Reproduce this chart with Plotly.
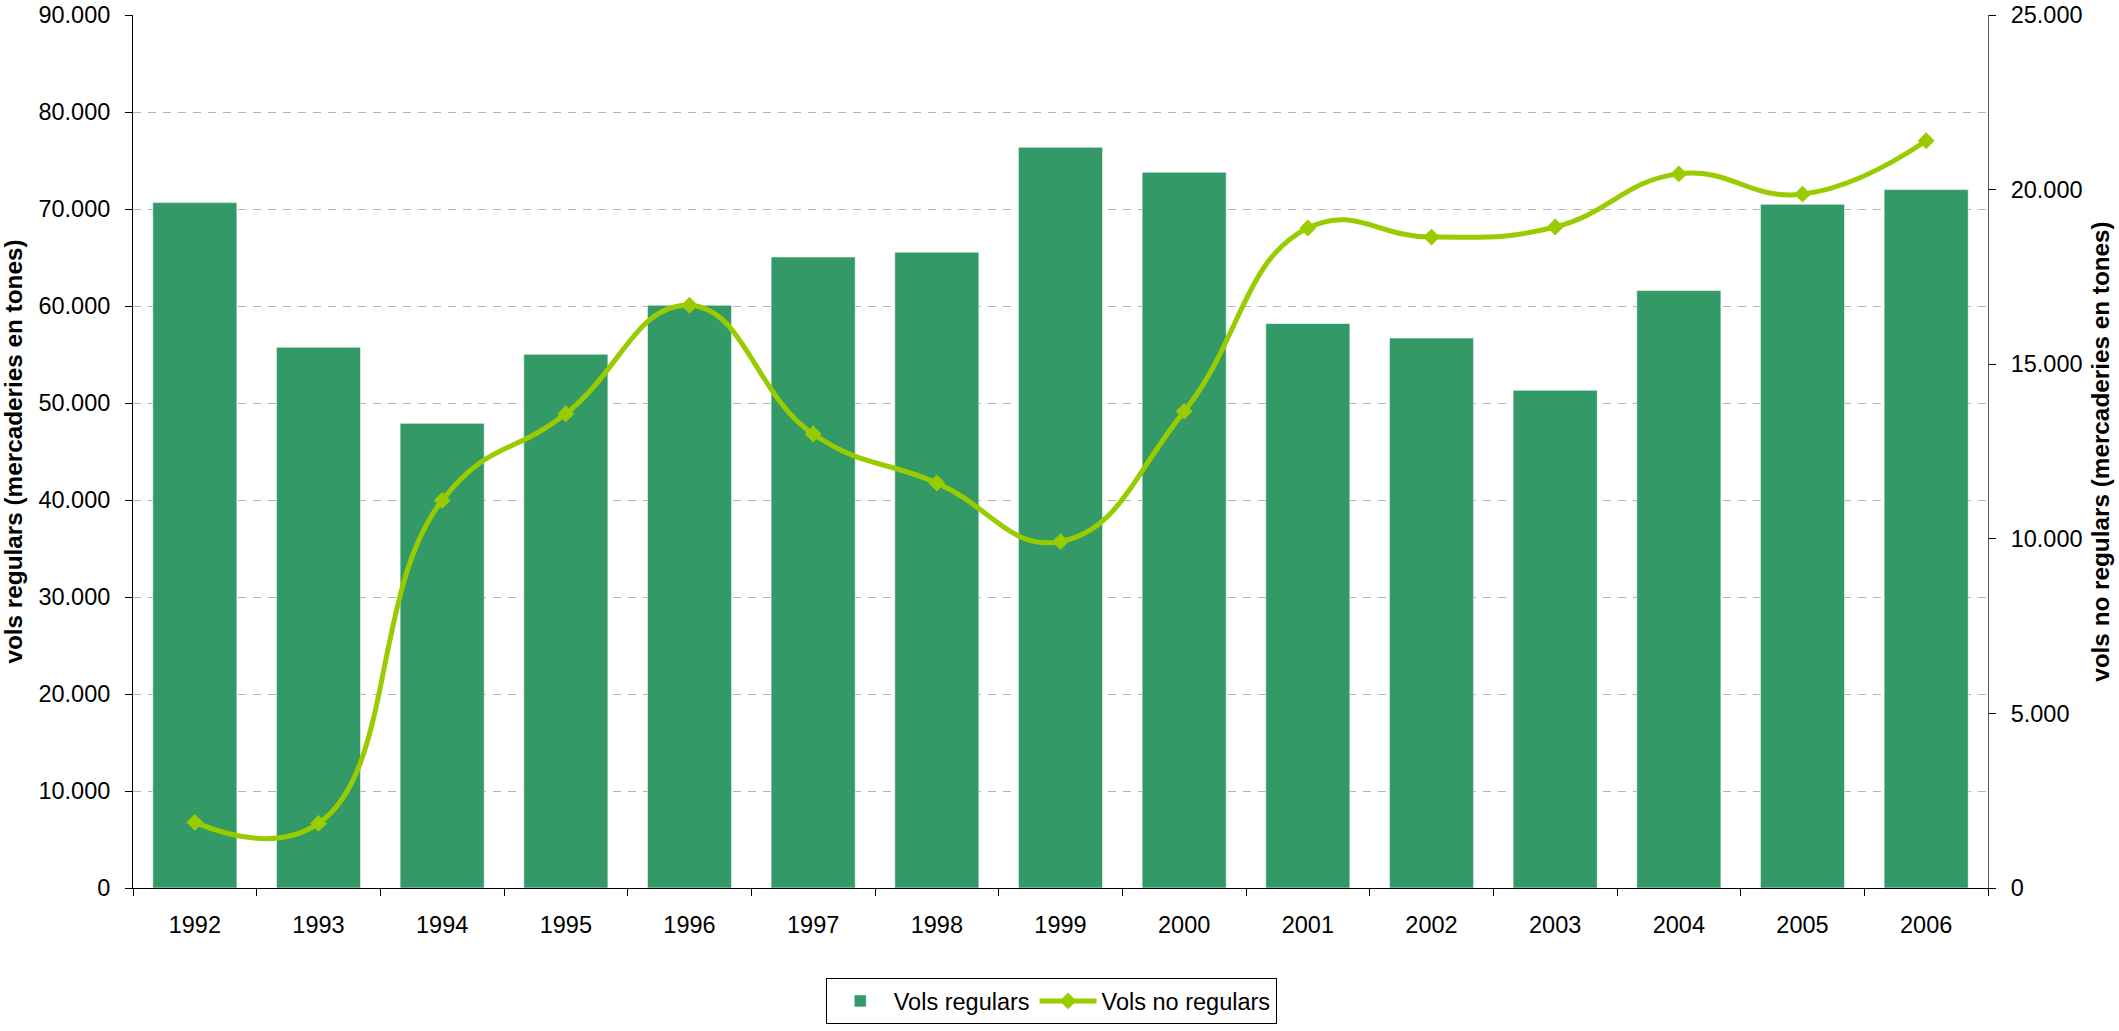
import plotly.graph_objects as go

# Air cargo (tonnes) by year: scheduled vs non-scheduled flights
years = ["1992", "1993", "1994", "1995", "1996", "1997", "1998", "1999",
         "2000", "2001", "2002", "2003", "2004", "2005", "2006"]
vols_regulars = [70660, 55740, 47900, 55020, 60070, 65050, 65540, 76360,
                 73780, 58190, 56700, 51310, 61590, 70480, 72000]
vols_no_regulars = [1880, 1850, 11100, 13580, 16690, 13000, 11600, 9920,
                    13650, 18900, 18640, 18930, 20450, 19870, 21400]

left_title = "vols regulars (mercaderies en tones)"
right_title = "vols no regulars (mercaderies en tones)"

FONT = "Liberation Sans, Arial, sans-serif"
FS = 23.5
TITLE_FS = 24.3
BAR_GREEN = "#339966"
LINE_GREEN = "#99CC00"

fig = go.Figure()

fig.add_trace(go.Bar(
    x=years, y=vols_regulars, name="Vols regulars",
    marker=dict(color=BAR_GREEN, line=dict(color="rgba(255,255,255,0.55)", width=1)),
    yaxis="y",
))

fig.add_trace(go.Scatter(
    x=years, y=vols_no_regulars, name="Vols no regulars",
    mode="lines+markers",
    line=dict(color=LINE_GREEN, width=5, shape="spline", smoothing=1.3),
    marker=dict(symbol="diamond", size=13, color=LINE_GREEN),
    yaxis="y2",
))

fig.update_layout(
    width=2119, height=1031,
    margin=dict(l=133, r=131, t=15, b=143),
    paper_bgcolor="white", plot_bgcolor="white",
    separators=",.",
    font=dict(family=FONT, size=FS, color="black"),
    bargap=0.32,
    showlegend=True,
    legend=dict(
        orientation="h", x=0.495, xanchor="center",
        yref="container", y=0.029, yanchor="middle",
        bordercolor="black", borderwidth=1, bgcolor="white",
        font=dict(family=FONT, size=FS, color="black"),
        itemwidth=57, tracegroupgap=0,
    ),
    xaxis=dict(
        type="category", range=[-0.5, len(years) - 0.5], automargin=False,
        showline=True, linecolor="black", linewidth=1,
        ticks="outside", tickson="boundaries", ticklen=7, tickcolor="black",
        showgrid=False, ticklabelstandoff=16,
        tickfont=dict(family=FONT, size=FS, color="black"),
    ),
    yaxis=dict(
        range=[0, 90000], dtick=10000, tickformat=",d", automargin=False,
        showline=True, linecolor="black", linewidth=1,
        ticks="outside", ticklen=7, tickcolor="black",
        showgrid=True, gridcolor="#b4b4b4", gridwidth=1, griddash="8px,7px",
        zeroline=False, ticklabelstandoff=10,
        tickfont=dict(family=FONT, size=FS, color="black"),
        title=dict(text=left_title, standoff=12,
                   font=dict(family=FONT, size=TITLE_FS, color="black", weight="bold")),
    ),
    yaxis2=dict(
        range=[0, 25000], dtick=5000, tickformat=",d", automargin=False,
        overlaying="y", side="right",
        showline=True, linecolor="#555555", linewidth=1,
        ticks="outside", ticklen=7, tickcolor="black",
        showgrid=False, zeroline=False, ticklabelstandoff=10,
        tickfont=dict(family=FONT, size=FS, color="black"),
        title=dict(text=right_title, standoff=10,
                   font=dict(family=FONT, size=TITLE_FS, color="black", weight="bold")),
    ),
)

fig.write_html("out.html")
